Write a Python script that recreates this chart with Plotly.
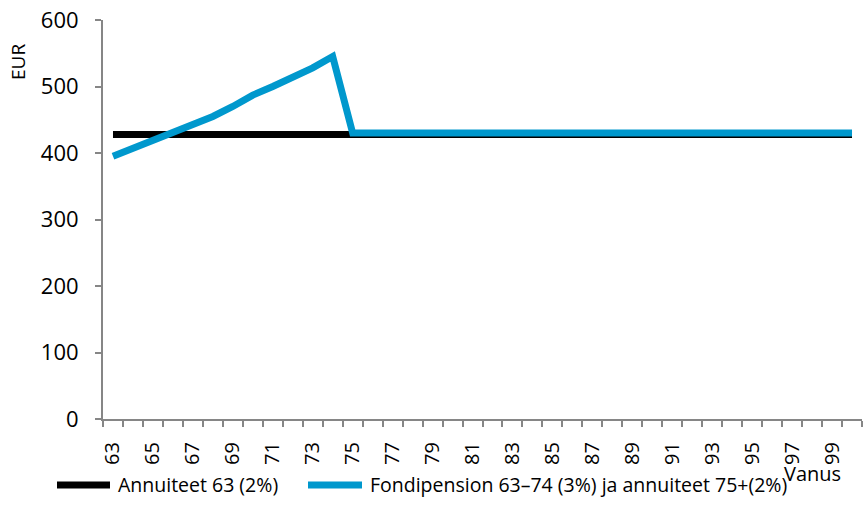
import plotly.graph_objects as go

ages = list(range(63, 101))
annuity = [428] * len(ages)
fund = [395, 407, 419, 431, 443, 455, 470, 487, 500, 514, 528, 545] + [430] * (len(ages) - 12)
tick_labels = [str(a) for a in range(63, 101, 2)]
series_names = ["Annuiteet 63 (2%)", "Fondipension 63\u201374 (3%) ja annuiteet 75+(2%)"]
series_colors = ["#000000", "#0098CD"]

FONT = "'Open Sans', sans-serif"

# plot area in page pixels
PX0, PX1, PY0, PY1 = 103, 862, 20, 419
def px(x):
    return (x - PX0) / (PX1 - PX0)
def py(y):
    return (PY1 - y) / (PY1 - PY0)

fig = go.Figure()
fig.add_trace(go.Scatter(x=ages, y=annuity, mode="lines", name=series_names[0],
                         line=dict(color=series_colors[0], width=7)))
fig.add_trace(go.Scatter(x=ages, y=fund, mode="lines", name=series_names[1],
                         line=dict(color=series_colors[1], width=7)))

shapes = []
annotations = [
    dict(text="EUR", xref="paper", yref="paper", x=px(18), y=py(62), showarrow=False,
         textangle=-90, font=dict(size=19), xanchor="center", yanchor="middle"),
    dict(text="Vanus", xref="paper", yref="paper", x=px(812), y=py(473), showarrow=False,
         font=dict(size=20), xanchor="center", yanchor="middle"),
]
legend_pos = [(57, 110, 116), (308, 362, 368)]
for (x0, x1, xt), name, col in zip(legend_pos, series_names, series_colors):
    shapes.append(dict(type="line", xref="paper", yref="paper", x0=px(x0), x1=px(x1),
                       y0=py(485), y1=py(485), line=dict(color=col, width=7)))
    annotations.append(dict(text=name, xref="paper", yref="paper", x=px(xt), y=py(485),
                            xanchor="left", yanchor="middle", showarrow=False,
                            font=dict(size=19.5)))

fig.update_layout(
    width=866, height=522,
    margin=dict(l=PX0, r=866 - PX1, t=PY0, b=522 - PY1, autoexpand=False),
    paper_bgcolor="white", plot_bgcolor="white",
    font=dict(family=FONT, size=20, color="#000000"),
    showlegend=False,
    xaxis=dict(range=[62.5, 100.5], tickvals=list(range(63, 101, 2)), ticktext=tick_labels,
               tickangle=-90, ticks="", showgrid=False, zeroline=False, automargin=False,
               showline=True, linecolor="#868686", linewidth=2, ticklabelstandoff=13,
               tickfont=dict(size=20), ticklabeloverflow="allow",
               minor=dict(tick0=62.5, dtick=1, ticks="outside", ticklen=6,
                          tickcolor="#868686", tickwidth=2, showgrid=False)),
    yaxis=dict(range=[0, 600], dtick=100, ticks="outside", ticklen=6, tickcolor="#868686",
               tickwidth=2, showgrid=False, zeroline=False, showline=True, automargin=False,
               linecolor="#868686", linewidth=2, tickfont=dict(size=22),
               ticklabelstandoff=12, ticklabeloverflow="allow"),
    shapes=shapes,
    annotations=annotations,
)

fig.write_html("out.html", config={"displayModeBar": False},
               post_script="document.body.style.margin='0';document.body.style.padding='0';")
